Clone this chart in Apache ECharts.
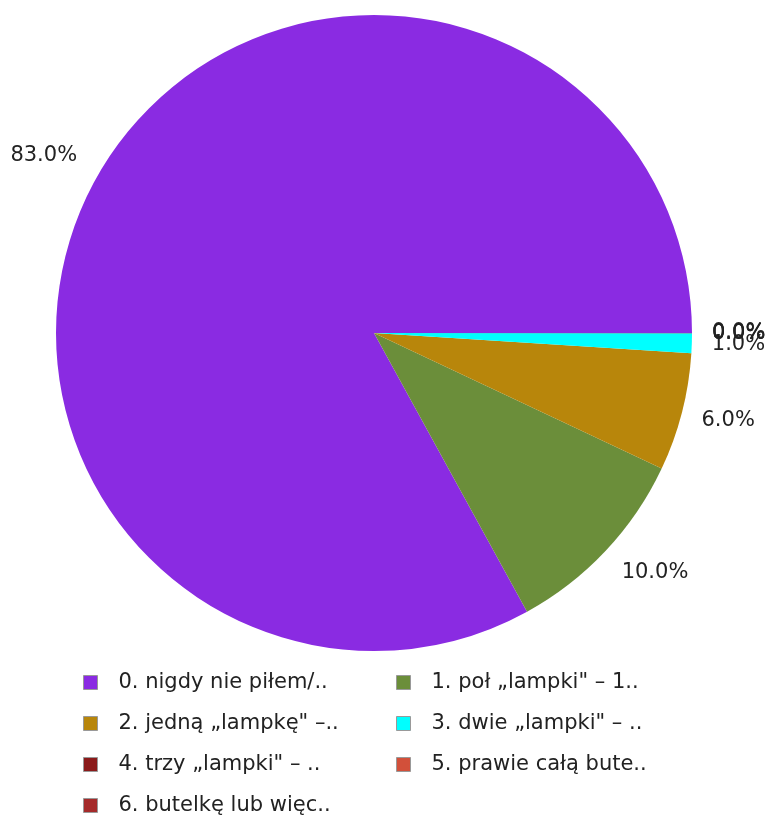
<!DOCTYPE html>
<html>
<head>
<meta charset="utf-8">
<script src="https://cdn.jsdelivr.net/npm/echarts@6/dist/echarts.min.js"></script>
<style>
  html, body { margin: 0; padding: 0; background: #fff; }
  #chart { width: 767px; height: 817px; }
</style>
</head>
<body>
<div id="chart"></div>
<script>
const categories = [
  '0. nigdy nie piłem/..',
  '1. poł „lampki" – 1..',
  '2. jedną „lampkę" –..',
  '3. dwie „lampki" – ..',
  '4. trzy „lampki" – ..',
  '5. prawie całą bute..',
  '6. butelkę lub więc..'
]
const values = [83, 10, 6, 1, 0, 0, 0]
const colors = ['#8a2be2', '#6b8e3a', '#b8860b', '#00ffff', '#8b1a1a', '#d2503a', '#a52a2a']

const total = values.reduce((a, b) => a + b, 0)
const center = [374, 333]
const chart = echarts.init(document.getElementById('chart'))

const legendBase = {
  orient: 'vertical',
  top: 672,
  height: 200,
  padding: 0,
  itemWidth: 14,
  itemHeight: 14,
  itemGap: 20,
  icon: 'rect',
  itemStyle: { borderColor: '#999', borderWidth: 1 },
  textStyle: {
    fontFamily: 'DejaVu Sans',
    fontSize: 21,
    lineHeight: 21,
    color: '#222',
    padding: [0, 0, 0, 16]
  }
}

chart.setOption({
  animation: false,
  color: colors,
  legend: [
    { ...legendBase, left: 83, data: categories.filter((_, i) => i % 2 === 0) },
    { ...legendBase, left: 396, data: categories.filter((_, i) => i % 2 === 1) }
  ],
  series: [{
    type: 'pie',
    center: center,
    radius: 318,
    startAngle: 0,
    clockwise: false,
    minAngle: 0.01,
    avoidLabelOverlap: false,
    label: {
      position: 'outside',
      fontFamily: 'DejaVu Sans',
      fontSize: 21,
      color: '#222',
      formatter: p => (p.value / total * 100).toFixed(1) + '%'
    },
    labelLine: { show: false, length: 15, length2: 0 },
    // push labels away so the nearest corner sits on the anchor
    labelLayout: p => {
      const r = p.labelRect
      const a = Math.atan2(r.y + r.height / 2 - center[1], r.x + r.width / 2 - center[0])
      return { dx: Math.min(0, Math.cos(a)) * 6, dy: Math.sin(a) * r.height * 0.85 }
    },
    data: categories.map((name, i) => ({ name, value: values[i] }))
  }]
})
</script>
</body>
</html>
